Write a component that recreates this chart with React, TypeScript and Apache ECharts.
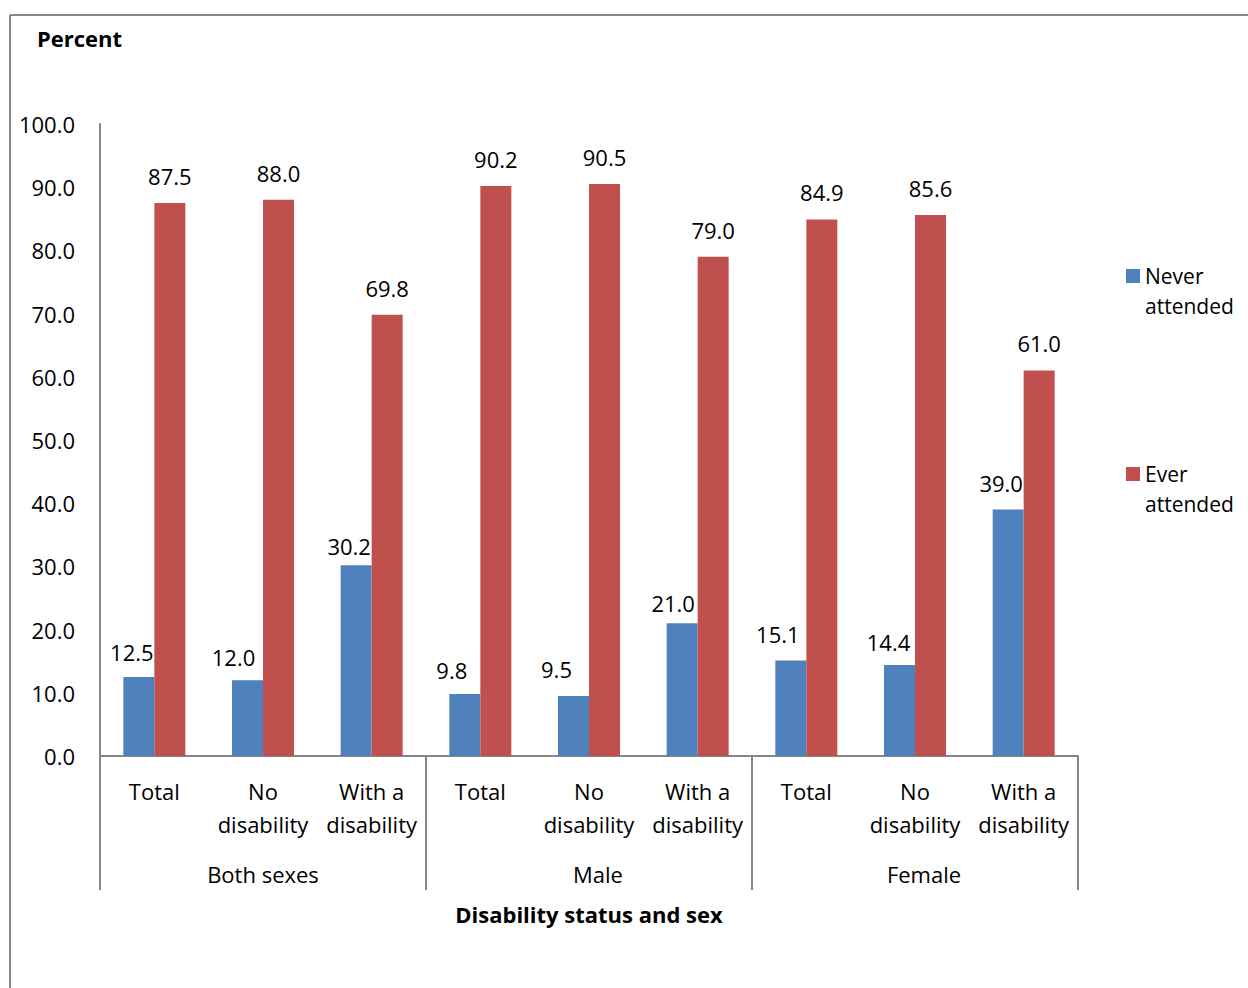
import React, { useEffect, useRef } from "react";
import * as echarts from "echarts";

// Category labels (inner level) and group labels (outer level)
const categories = [
  "Total", "No\ndisability", "With a\ndisability",
  "Total", "No\ndisability", "With a\ndisability",
  "Total", "No\ndisability", "With a\ndisability",
];
const groups = ["Both sexes", "Male", "Female"];

// Percent of population by school attendance
const neverAttended = [12.5, 12.0, 30.2, 9.8, 9.5, 21.0, 15.1, 14.4, 39.0];
const everAttended = [87.5, 88.0, 69.8, 90.2, 90.5, 79.0, 84.9, 85.6, 61.0];

const seriesNames = ["Never\nattended", "Ever\nattended"];
const yTicks = { min: 0, max: 100, interval: 10 };

// Hand-placed nudges [dx, dy] for the "Never attended" value labels
const neverLabelNudge: [number, number][] = [
  [-7, 2], [-14, 4], [-7, 8], [-13, 3], [-17, 0], [-9, 7], [-13, 0], [-11, 4], [-7, 0],
];
// Horizontal nudges for the group labels
const groupLabelNudge = [0, 18, 18];

const FONT = "'Open Sans', 'Noto Sans', sans-serif";
const AXIS_GREY = "#868686";
const BLUE = "#4F81BD";
const RED = "#C0504D";

export default function App() {
  const ref = useRef<HTMLDivElement>(null);

  useEffect(() => {
    if (!ref.current) return;
    const chart = echarts.init(ref.current, undefined, { renderer: "svg" });

    const labelStyle = {
      show: true,
      position: "top" as const,
      distance: 15,
      color: "#000",
      fontFamily: FONT,
      fontSize: 22,
      lineHeight: 24,
      formatter: (p: any) => Number(p.value).toFixed(1),
    };

    const legendText = {
      fontFamily: FONT,
      fontSize: 21,
      lineHeight: 30,
      color: "#000",
    };

    const groupRich: Record<string, any> = {};
    groups.forEach((g, i) => {
      groupRich["g" + i] = {
        fontFamily: FONT,
        fontSize: 22,
        color: "#000",
        padding: [0, 0, 0, groupLabelNudge[i]],
      };
    });

    chart.setOption({
      animation: false,
      backgroundColor: "#fff",
      textStyle: { fontFamily: FONT },
      grid: { left: 100, right: 170, top: 124, bottom: 232, containLabel: false },
      legend: seriesNames.map((name, i) => ({
        orient: "vertical",
        left: 1121,
        top: i === 0 ? 226 : 424,
        itemWidth: 14,
        itemHeight: 14,
        itemGap: 6,
        icon: "rect",
        data: [name],
        // leading blank line keeps the first line level with the swatch
        formatter: (n: string) => "\n" + n,
        textStyle: legendText,
      })),
      xAxis: [
        {
          type: "category",
          data: categories,
          position: "bottom",
          axisLine: { show: true, lineStyle: { color: AXIS_GREY, width: 2 } },
          axisTick: { show: false },
          axisLabel: {
            interval: 0,
            margin: 18,
            color: "#000",
            fontFamily: FONT,
            fontSize: 22,
            lineHeight: 33,
          },
        },
        {
          type: "category",
          data: groups,
          position: "bottom",
          axisLine: { show: false },
          axisTick: { show: true, length: 134, interval: 0, lineStyle: { color: AXIS_GREY, width: 2 } },
          axisLabel: {
            interval: 0,
            margin: 106,
            color: "#000",
            fontFamily: FONT,
            fontSize: 22,
            lineHeight: 24,
            formatter: (v: string) => `{g${groups.indexOf(v)}|${v}}`,
            rich: groupRich,
          },
        },
      ],
      yAxis: {
        type: "value",
        min: yTicks.min,
        max: yTicks.max,
        interval: yTicks.interval,
        axisLine: { show: true, lineStyle: { color: AXIS_GREY, width: 2 } },
        axisTick: { show: false },
        splitLine: { show: false },
        axisLabel: {
          margin: 25,
          color: "#000",
          fontFamily: FONT,
          fontSize: 22,
          formatter: (v: number) => v.toFixed(1),
        },
      },
      series: [
        {
          name: seriesNames[0],
          type: "bar",
          xAxisIndex: 0,
          data: neverAttended.map((v, i) => ({
            value: v,
            label: { offset: neverLabelNudge[i] },
          })),
          barWidth: 31,
          barGap: "0%",
          itemStyle: { color: BLUE },
          label: labelStyle,
        },
        {
          name: seriesNames[1],
          type: "bar",
          xAxisIndex: 0,
          data: everAttended,
          barWidth: 31,
          barGap: "0%",
          itemStyle: { color: RED },
          label: labelStyle,
        },
      ],
      graphic: [
        {
          type: "line",
          shape: { x1: 10, y1: 15, x2: 1248, y2: 15 },
          style: { stroke: AXIS_GREY, lineWidth: 2 },
        },
        {
          type: "line",
          shape: { x1: 10, y1: 15, x2: 10, y2: 988 },
          style: { stroke: AXIS_GREY, lineWidth: 2 },
        },
        {
          type: "text",
          left: 37,
          top: 27,
          style: { text: "Percent", fill: "#000", font: `bold 22px ${FONT}` },
        },
        {
          type: "text",
          x: 589,
          y: 914,
          style: {
            text: "Disability status and sex",
            fill: "#000",
            font: `bold 22px ${FONT}`,
            align: "center",
            verticalAlign: "middle",
          },
        },
      ],
    });

    return () => chart.dispose();
  }, []);

  return (
    <div
      ref={ref}
      style={{ position: "fixed", left: 0, top: 0, width: 1248, height: 988 }}
    />
  );
}
